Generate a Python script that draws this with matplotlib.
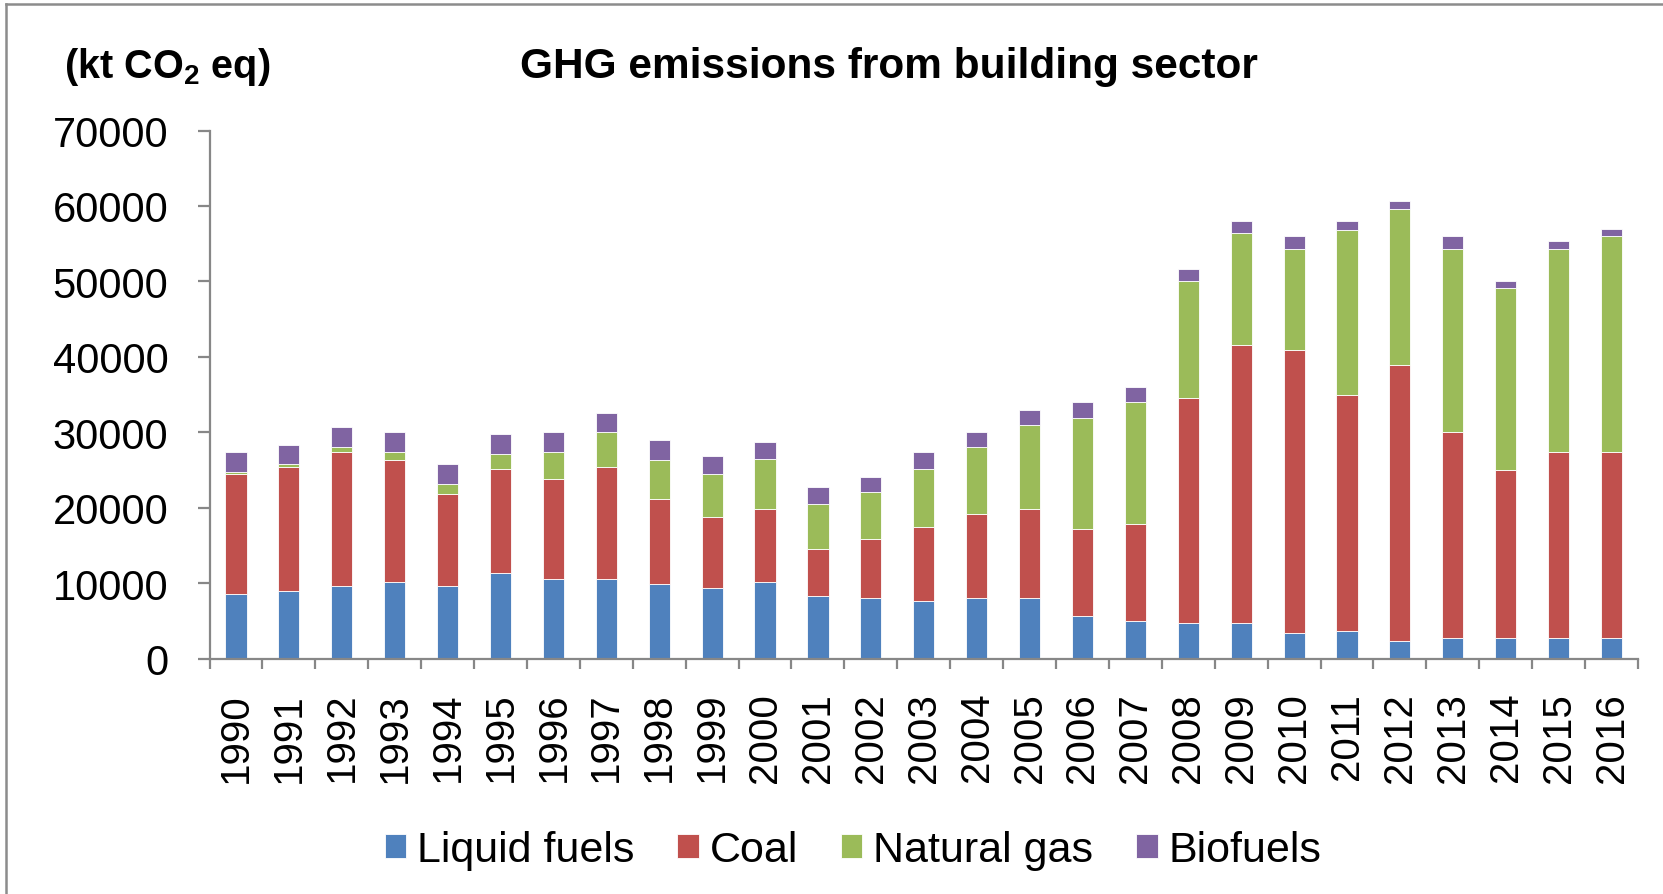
import matplotlib
matplotlib.use("Agg")
import matplotlib.pyplot as plt
import numpy as np
from matplotlib.lines import Line2D

plt.rcParams['font.family'] = ['Liberation Sans', 'DejaVu Sans']
plt.rcParams['mathtext.fontset'] = 'custom'
plt.rcParams['mathtext.rm'] = 'Liberation Sans:bold'
plt.rcParams['mathtext.it'] = 'Liberation Sans:bold:italic'
plt.rcParams['mathtext.bf'] = 'Liberation Sans:bold'

years = [str(y) for y in range(1990, 2017)]
liquid_fuels = [8600, 8900, 9600, 10200, 9600, 11300, 10600, 10600, 9900, 9300,
                10200, 8300, 8000, 7600, 8000, 8000, 5700, 5000, 4700, 4700,
                3400, 3700, 2300, 2700, 2700, 2700, 2700]
coal = [15850, 16450, 17750, 16150, 12150, 13800, 13150, 14800, 11200, 9500,
        9600, 6200, 7800, 9900, 11150, 11800, 11450, 12800, 29900, 36800,
        37450, 31300, 36550, 27300, 22350, 24700, 24700]
natural_gas = [300, 400, 650, 1000, 1350, 2000, 3600, 4600, 5250, 5650,
               6600, 6000, 6300, 7600, 8850, 11200, 14800, 16150, 15400, 14850,
               13500, 21750, 20750, 24350, 24050, 26950, 28600]
biofuels = [2600, 2600, 2650, 2650, 2650, 2600, 2650, 2600, 2600, 2350,
            2300, 2300, 1950, 2300, 2000, 1950, 2000, 2000, 1700, 1600,
            1650, 1300, 1000, 1650, 950, 1000, 1000]

series_names = ["Liquid fuels", "Coal", "Natural gas", "Biofuels"]
colors = ["#4F81BD", "#C0504D", "#9BBB59", "#8064A2"]
y_ticks = [0, 10000, 20000, 30000, 40000, 50000, 60000, 70000]

W, H = 1663, 895
fig = plt.figure(figsize=(W / 100, H / 100), dpi=100)
ax = fig.add_axes([209.5 / W, 1 - 659.5 / H, (1638 - 209.5) / W, (659.5 - 131.5) / H])

x = np.arange(len(years))
bottom = np.zeros(len(years))
handles = []
for name, vals, c in zip(series_names, [liquid_fuels, coal, natural_gas, biofuels], colors):
    b = ax.bar(x, vals, width=0.40, bottom=bottom, color=c, edgecolor='white',
               linewidth=0.6, label=name)
    handles.append(b)
    bottom += np.array(vals)

axis_col = '#878787'
ax.set_xlim(-0.5, len(years) - 0.5)
ax.set_ylim(0, 70000)
for s in ['top', 'right']:
    ax.spines[s].set_visible(False)
for s in ['left', 'bottom']:
    ax.spines[s].set_color(axis_col)
    ax.spines[s].set_linewidth(1.6)

ax.set_yticks(y_ticks)
ax.set_yticklabels([str(v) for v in y_ticks])
ax.tick_params(axis='y', direction='out', length=8.6, width=1.6, color=axis_col,
               labelsize=30, pad=21)

ax.set_xticks(x)
ax.set_xticklabels(years, rotation=90)
ax.tick_params(axis='x', which='major', length=0, labelsize=29, pad=24)
ax.set_xticks(np.arange(-0.5, len(years), 1.0), minor=True)
ax.tick_params(axis='x', which='minor', direction='out', length=7, width=1.6, color=axis_col)

fig.text(889 / W, 1 - 67 / H, "GHG emissions from building sector", ha='center', va='center',
         fontsize=30.5, fontweight='bold')
fig.text(64 / W, 1 - 67 / H, r"(kt CO$_\mathrm{2}$ eq)", ha='left', va='center',
         fontsize=28.5, fontweight='bold')

fig.legend(handles=handles, labels=series_names, loc='center', ncol=4,
           bbox_to_anchor=(853 / W, 1 - 851.5 / H), frameon=False, fontsize=31,
           handlelength=0.5, handleheight=0.5, handletextpad=0.25, columnspacing=1.0)

# chart frame (top and left edges visible)
fig.add_artist(Line2D([5.5 / W, 5.5 / W], [0, 1 - 4.5 / H], transform=fig.transFigure,
                      color='#8c8c8c', linewidth=1.8))
fig.add_artist(Line2D([5.5 / W, 1], [1 - 4.5 / H, 1 - 4.5 / H], transform=fig.transFigure,
                      color='#8c8c8c', linewidth=1.8))

fig.savefig("out.png", dpi=100, facecolor='white')
